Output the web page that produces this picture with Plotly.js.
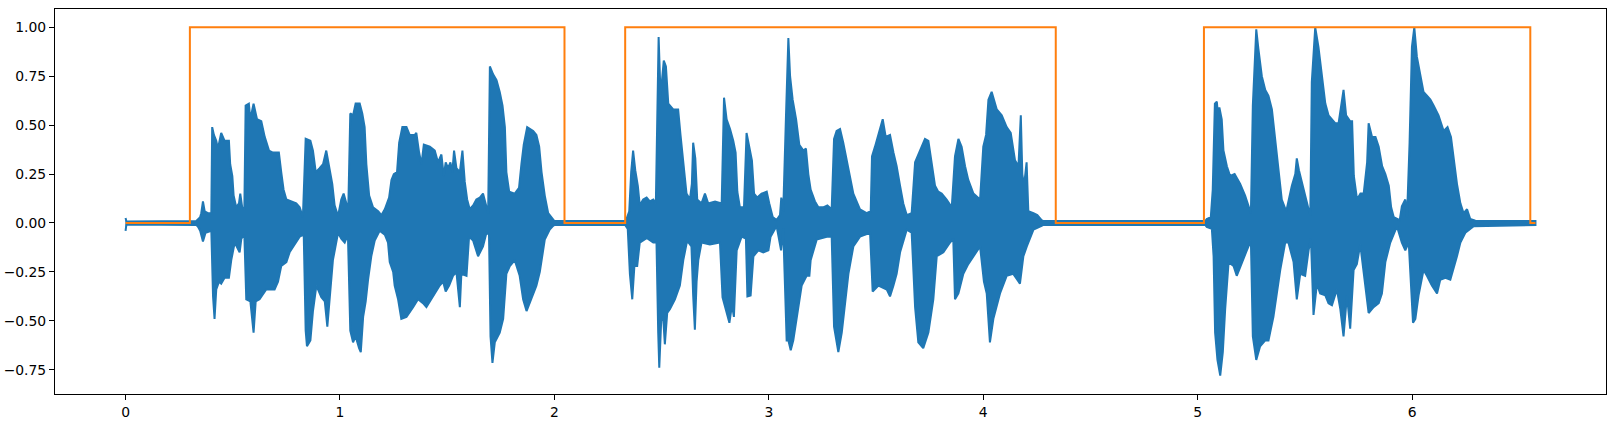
<!DOCTYPE html>
<html>
<head>
<meta charset="utf-8">
<script src="https://cdn.plot.ly/plotly-3.0.1.min.js"></script>
<style>
  html, body { margin: 0; padding: 0; background: #ffffff; }
  #chart { width: 1615px; height: 428px; }
</style>
</head>
<body>
<div id="chart"></div>
<script>
// Waveform envelope: [time (s), amplitude]
const upperEnvelope = [
  [0,0.026],[0.004,0.008],[0.33,0.01],[0.338,0.02],[0.348,0.03],[0.353,0.05],[0.361,0.11],[0.369,0.06],[0.384,0.05],[0.400,0.05],
  [0.404,0.49],[0.412,0.45],[0.423,0.42],[0.431,0.38],[0.446,0.46],[0.462,0.42],[0.482,0.42],[0.488,0.30],[0.498,0.24],[0.504,0.14],
  [0.516,0.08],[0.529,0.10],[0.535,0.15],[0.544,0.08],[0.554,0.07],[0.560,0.60],[0.575,0.61],[0.582,0.53],[0.597,0.61],[0.613,0.53],
  [0.633,0.52],[0.649,0.44],[0.669,0.37],[0.687,0.36],[0.715,0.36],[0.726,0.26],[0.737,0.17],[0.750,0.12],[0.773,0.11],[0.796,0.10],
  [0.812,0.08],[0.827,0.03],[0.840,0.43],[0.862,0.42],[0.874,0.37],[0.887,0.26],[0.905,0.28],[0.921,0.30],[0.936,0.37],[0.952,0.27],
  [0.964,0.20],[0.975,0.09],[0.991,0.035],[1.006,0.12],[1.017,0.15],[1.030,0.10],[1.039,0.09],[1.048,0.56],[1.061,0.55],[1.073,0.61],
  [1.092,0.61],[1.104,0.56],[1.115,0.49],[1.123,0.30],[1.136,0.14],[1.154,0.08],[1.178,0.06],[1.193,0.04],[1.209,0.07],[1.229,0.13],
  [1.240,0.22],[1.251,0.25],[1.266,0.26],[1.276,0.41],[1.291,0.49],[1.310,0.49],[1.325,0.45],[1.349,0.45],[1.356,0.46],[1.369,0.36],
  [1.380,0.30],[1.391,0.40],[1.419,0.39],[1.442,0.37],[1.457,0.31],[1.473,0.35],[1.484,0.24],[1.493,0.31],[1.504,0.28],[1.515,0.31],
  [1.524,0.26],[1.532,0.37],[1.543,0.28],[1.559,0.26],[1.571,0.37],[1.582,0.21],[1.593,0.12],[1.605,0.07],[1.621,0.09],[1.636,0.12],
  [1.652,0.13],[1.667,0.15],[1.683,0.08],[1.691,0.05],[1.699,0.80],[1.714,0.76],[1.730,0.73],[1.745,0.67],[1.758,0.60],[1.769,0.49],
  [1.776,0.26],[1.789,0.16],[1.815,0.15],[1.835,0.18],[1.846,0.30],[1.857,0.40],[1.873,0.49],[1.901,0.47],[1.916,0.45],[1.929,0.39],
  [1.940,0.26],[1.955,0.14],[1.971,0.05],[1.994,0.015],[2.00,0.01],[2.33,0.01],[2.336,0.02],[2.349,0.06],[2.358,0.26],[2.367,0.37],
  [2.377,0.27],[2.389,0.19],[2.398,0.09],[2.414,0.12],[2.430,0.13],[2.445,0.11],[2.461,0.12],[2.473,0.10],[2.479,0.50],[2.486,0.95],
  [2.495,0.65],[2.510,0.83],[2.520,0.80],[2.531,0.61],[2.554,0.58],[2.577,0.58],[2.588,0.45],[2.601,0.32],[2.616,0.15],[2.632,0.12],
  [2.641,0.20],[2.647,0.41],[2.657,0.33],[2.666,0.12],[2.686,0.10],[2.702,0.15],[2.717,0.10],[2.749,0.11],[2.772,0.10],[2.780,0.10],
  [2.791,0.64],[2.803,0.53],[2.819,0.48],[2.834,0.42],[2.845,0.36],[2.853,0.16],[2.865,0.08],[2.884,0.08],[2.896,0.46],[2.909,0.38],
  [2.921,0.32],[2.931,0.15],[2.946,0.13],[2.966,0.15],[2.990,0.16],[3.002,0.10],[3.018,0.03],[3.036,0.015],[3.052,0.04],[3.058,0.13],
  [3.067,0.06],[3.080,0.55],[3.091,0.945],[3.099,0.75],[3.111,0.63],[3.127,0.53],[3.142,0.40],[3.161,0.37],[3.173,0.38],[3.184,0.25],
  [3.195,0.17],[3.215,0.11],[3.231,0.08],[3.254,0.08],[3.273,0.09],[3.293,0.07],[3.304,0.43],[3.316,0.47],[3.332,0.48],[3.347,0.41],
  [3.363,0.32],[3.379,0.22],[3.394,0.15],[3.425,0.07],[3.456,0.05],[3.475,0.06],[3.481,0.34],[3.495,0.39],[3.511,0.45],[3.531,0.53],
  [3.545,0.44],[3.565,0.45],[3.581,0.36],[3.596,0.29],[3.612,0.19],[3.627,0.10],[3.643,0.04],[3.666,0.05],[3.682,0.31],[3.705,0.37],
  [3.728,0.43],[3.744,0.42],[3.759,0.32],[3.775,0.19],[3.790,0.16],[3.806,0.15],[3.829,0.12],[3.853,0.08],[3.868,0.34],[3.884,0.43],
  [3.899,0.39],[3.915,0.29],[3.930,0.22],[3.954,0.15],[3.985,0.12],[4.000,0.39],[4.013,0.45],[4.024,0.63],[4.039,0.67],[4.063,0.58],
  [4.086,0.55],[4.109,0.49],[4.128,0.46],[4.148,0.32],[4.164,0.29],[4.175,0.55],[4.182,0.25],[4.190,0.19],[4.202,0.31],[4.210,0.06],
  [4.234,0.05],[4.252,0.04],[4.272,0.015],[4.28,0.01],[5.035,0.01],[5.042,0.02],[5.061,0.03],[5.070,0.17],[5.080,0.61],[5.089,0.62],
  [5.095,0.55],[5.101,0.59],[5.112,0.53],[5.120,0.37],[5.136,0.29],[5.151,0.24],[5.172,0.25],[5.198,0.20],[5.221,0.14],[5.237,0.085],
  [5.248,0.05],[5.257,0.60],[5.273,0.99],[5.283,0.89],[5.299,0.75],[5.315,0.68],[5.330,0.65],[5.346,0.58],[5.361,0.44],[5.377,0.27],
  [5.392,0.12],[5.413,0.06],[5.439,0.19],[5.455,0.25],[5.462,0.33],[5.472,0.27],[5.486,0.20],[5.501,0.14],[5.517,0.07],[5.525,0.04],
  [5.532,0.72],[5.548,1.0],[5.563,0.90],[5.579,0.75],[5.595,0.61],[5.610,0.55],[5.626,0.53],[5.641,0.51],[5.657,0.51],[5.668,0.60],
  [5.680,0.68],[5.692,0.55],[5.711,0.52],[5.720,0.52],[5.728,0.24],[5.743,0.12],[5.759,0.15],[5.774,0.15],[5.790,0.31],[5.797,0.51],
  [5.813,0.44],[5.829,0.44],[5.844,0.39],[5.860,0.29],[5.875,0.25],[5.891,0.19],[5.902,0.08],[5.914,0.03],[5.942,0.015],[5.952,0.085],
  [5.968,0.12],[5.976,0.03],[5.988,0.41],[5.999,0.90],[6.010,1.0],[6.022,0.85],[6.038,0.75],[6.053,0.67],[6.069,0.65],[6.085,0.63],
  [6.100,0.60],[6.123,0.55],[6.147,0.47],[6.165,0.49],[6.181,0.44],[6.193,0.34],[6.209,0.20],[6.225,0.10],[6.240,0.05],[6.256,0.07],
  [6.271,0.02],[6.295,0.012],[6.575,0.01]
];

const lowerEnvelope = [
  [0,-0.04],[0.004,-0.008],[0.33,-0.01],[0.338,-0.02],[0.348,-0.04],[0.361,-0.094],[0.373,-0.05],[0.400,-0.04],[0.408,-0.375],[0.415,-0.49],
  [0.423,-0.34],[0.436,-0.30],[0.446,-0.31],[0.462,-0.28],[0.482,-0.28],[0.493,-0.19],[0.509,-0.10],[0.532,-0.15],[0.540,-0.08],[0.554,-0.06],
  [0.563,-0.39],[0.582,-0.40],[0.597,-0.56],[0.607,-0.40],[0.625,-0.39],[0.656,-0.34],[0.695,-0.34],[0.711,-0.30],[0.726,-0.22],[0.750,-0.20],
  [0.765,-0.15],[0.789,-0.11],[0.812,-0.07],[0.831,-0.06],[0.840,-0.55],[0.846,-0.63],[0.862,-0.60],[0.874,-0.45],[0.890,-0.32],[0.913,-0.38],
  [0.929,-0.40],[0.941,-0.53],[0.952,-0.40],[0.967,-0.19],[0.991,-0.05],[1.006,-0.08],[1.022,-0.10],[1.037,-0.06],[1.048,-0.55],[1.061,-0.61],
  [1.073,-0.58],[1.089,-0.64],[1.097,-0.66],[1.108,-0.48],[1.120,-0.40],[1.131,-0.29],[1.146,-0.17],[1.162,-0.09],[1.185,-0.04],[1.209,-0.06],
  [1.224,-0.10],[1.232,-0.20],[1.248,-0.25],[1.255,-0.32],[1.271,-0.39],[1.286,-0.49],[1.310,-0.48],[1.341,-0.43],[1.364,-0.39],[1.387,-0.41],
  [1.403,-0.43],[1.426,-0.39],[1.465,-0.32],[1.481,-0.30],[1.493,-0.35],[1.509,-0.32],[1.527,-0.27],[1.543,-0.25],[1.559,-0.43],[1.566,-0.26],
  [1.590,-0.27],[1.602,-0.07],[1.621,-0.09],[1.644,-0.17],[1.667,-0.12],[1.683,-0.05],[1.695,-0.06],[1.702,-0.58],[1.711,-0.715],[1.722,-0.61],
  [1.745,-0.56],[1.761,-0.49],[1.776,-0.26],[1.792,-0.22],[1.815,-0.19],[1.838,-0.27],[1.854,-0.39],[1.870,-0.45],[1.901,-0.36],[1.916,-0.32],
  [1.932,-0.25],[1.955,-0.085],[1.978,-0.034],[1.994,-0.015],[2.00,-0.01],[2.33,-0.01],[2.342,-0.03],[2.352,-0.26],[2.363,-0.39],[2.373,-0.22],
  [2.386,-0.22],[2.398,-0.10],[2.430,-0.077],[2.461,-0.10],[2.476,-0.10],[2.484,-0.56],[2.489,-0.74],[2.498,-0.50],[2.507,-0.48],[2.515,-0.62],
  [2.526,-0.46],[2.539,-0.44],[2.562,-0.39],[2.585,-0.32],[2.601,-0.19],[2.619,-0.09],[2.639,-0.12],[2.647,-0.37],[2.655,-0.545],[2.663,-0.30],
  [2.671,-0.19],[2.686,-0.10],[2.725,-0.11],[2.772,-0.10],[2.784,-0.38],[2.803,-0.46],[2.816,-0.51],[2.828,-0.42],[2.837,-0.48],[2.850,-0.14],
  [2.873,-0.07],[2.893,-0.08],[2.900,-0.375],[2.915,-0.37],[2.928,-0.17],[2.951,-0.14],[2.974,-0.15],[2.998,-0.14],[3.008,-0.07],[3.036,-0.015],
  [3.057,-0.14],[3.067,-0.03],[3.083,-0.60],[3.091,-0.60],[3.102,-0.65],[3.114,-0.60],[3.137,-0.44],[3.153,-0.32],[3.176,-0.27],[3.189,-0.27],
  [3.195,-0.19],[3.223,-0.085],[3.270,-0.07],[3.293,-0.07],[3.304,-0.53],[3.324,-0.66],[3.340,-0.56],[3.355,-0.43],[3.371,-0.26],[3.394,-0.12],
  [3.425,-0.07],[3.472,-0.05],[3.484,-0.35],[3.511,-0.32],[3.534,-0.33],[3.550,-0.34],[3.565,-0.375],[3.581,-0.32],[3.596,-0.26],[3.612,-0.15],
  [3.643,-0.034],[3.666,-0.05],[3.682,-0.43],[3.697,-0.61],[3.720,-0.64],[3.744,-0.56],[3.767,-0.39],[3.783,-0.17],[3.814,-0.15],[3.845,-0.10],
  [3.860,-0.08],[3.868,-0.39],[3.884,-0.36],[3.907,-0.26],[3.930,-0.21],[3.954,-0.17],[3.985,-0.12],[4.003,-0.30],[4.016,-0.36],[4.031,-0.61],
  [4.047,-0.49],[4.078,-0.36],[4.109,-0.27],[4.140,-0.26],[4.171,-0.31],[4.187,-0.17],[4.203,-0.12],[4.234,-0.034],[4.272,-0.015],[4.28,-0.01],
  [5.035,-0.01],[5.042,-0.02],[5.066,-0.03],[5.074,-0.17],[5.081,-0.56],[5.092,-0.70],[5.105,-0.78],[5.117,-0.66],[5.128,-0.44],[5.144,-0.20],
  [5.167,-0.22],[5.182,-0.27],[5.206,-0.20],[5.229,-0.14],[5.248,-0.09],[5.257,-0.58],[5.273,-0.70],[5.291,-0.63],[5.315,-0.60],[5.330,-0.60],
  [5.353,-0.48],[5.369,-0.36],[5.385,-0.24],[5.408,-0.10],[5.423,-0.10],[5.447,-0.20],[5.462,-0.39],[5.478,-0.26],[5.501,-0.27],[5.517,-0.14],
  [5.528,-0.08],[5.540,-0.47],[5.556,-0.31],[5.571,-0.36],[5.595,-0.37],[5.610,-0.41],[5.626,-0.42],[5.649,-0.34],[5.665,-0.44],[5.680,-0.58],
  [5.696,-0.37],[5.711,-0.54],[5.727,-0.24],[5.742,-0.21],[5.758,-0.11],[5.774,-0.24],[5.797,-0.46],[5.820,-0.43],[5.844,-0.41],[5.859,-0.36],
  [5.875,-0.20],[5.898,-0.10],[5.929,-0.017],[5.952,-0.10],[5.968,-0.14],[5.984,-0.10],[5.991,-0.27],[6.004,-0.51],[6.015,-0.49],[6.030,-0.37],
  [6.053,-0.24],[6.069,-0.27],[6.092,-0.32],[6.116,-0.36],[6.131,-0.29],[6.155,-0.28],[6.178,-0.29],[6.193,-0.24],[6.209,-0.17],[6.225,-0.10],
  [6.248,-0.05],[6.287,-0.017],[6.575,-0.01]
];

// Voice activity (step function)
const vadTimes  = [0, 0.30, 2.047, 2.33, 4.338, 5.029, 6.551, 6.575];
const vadValues = [0, 1, 0, 1, 0, 1, 0, 0];

const xTickValues = [0, 1, 2, 3, 4, 5, 6];
const yTickValues = [-0.75, -0.5, -0.25, 0, 0.25, 0.5, 0.75, 1.0];

const polyX = upperEnvelope.map(p => p[0]).concat(lowerEnvelope.slice().reverse().map(p => p[0]));
const polyY = upperEnvelope.map(p => p[1]).concat(lowerEnvelope.slice().reverse().map(p => p[1]));

const traces = [
  {
    x: polyX, y: polyY, type: 'scatter', mode: 'lines',
    fill: 'toself', fillcolor: '#1f77b4',
    line: { color: '#1f77b4', width: 2 },
    hoverinfo: 'skip', showlegend: false
  },
  {
    x: vadTimes, y: vadValues, type: 'scatter', mode: 'lines',
    line: { color: '#ff7f0e', width: 2, shape: 'hv' },
    showlegend: false
  }
];

const axisCommon = {
  showgrid: false, zeroline: false,
  showline: true, mirror: true, linecolor: '#000000', linewidth: 1,
  ticks: 'outside', ticklen: 5, tickwidth: 1, tickcolor: '#000000',
  tickfont: { family: 'DejaVu Sans, sans-serif', size: 13.9, color: '#000000' }
};

const layout = {
  width: 1615, height: 428,
  margin: { l: 55, r: 9, t: 9, b: 34, pad: 0 },
  paper_bgcolor: '#ffffff', plot_bgcolor: '#ffffff',
  showlegend: false,
  xaxis: Object.assign({}, axisCommon, {
    range: [-0.329, 6.904], tickvals: xTickValues, ticktext: xTickValues.map(String)
  }),
  yaxis: Object.assign({}, axisCommon, {
    range: [-0.874, 1.0935], tickvals: yTickValues, tickformat: '.2f'
  })
};

Plotly.newPlot('chart', traces, layout, { displayModeBar: false, staticPlot: true });
</script>
</body>
</html>
